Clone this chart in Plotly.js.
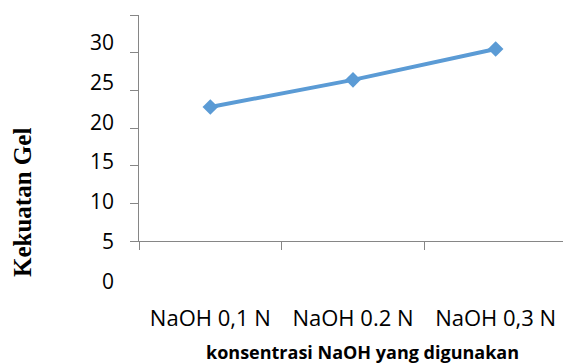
<!DOCTYPE html>
<html>
<head>
<meta charset="utf-8">
<script src="https://cdn.plot.ly/plotly-3.0.1.min.js"></script>
<style>html,body{margin:0;padding:0;background:#fff}#chart{width:563px;height:363px}</style>
</head>
<body>
<div id="chart"></div>
<script>
var categories = ["NaOH 0,1 N", "NaOH 0.2 N", "NaOH 0,3 N"];
var kekuatanGel = [22.8, 26.4, 30.5];
var yTickValues = [0, 5, 10, 15, 20, 25, 30];
var yTickLabels = ["0", "5", "10", "15", "20", "25", "30"];
var xTitle = "konsentrasi NaOH yang digunakan";
var yTitle = "Kekuatan Gel";

var axisGray = "#868686";
var lineBlue = "#5B9BD5";

var traces = [
  {
    type: "scatter",
    mode: "lines+markers",
    x: categories,
    y: kekuatanGel,
    xaxis: "x",
    yaxis: "y",
    line: {color: lineBlue, width: 4},
    marker: {symbol: "diamond", size: 12, color: lineBlue},
    hoverinfo: "x+y",
    showlegend: false
  },
  {
    // carrier for the label axis only; draws nothing
    type: "scatter",
    mode: "none",
    x: categories,
    y: kekuatanGel,
    xaxis: "x",
    yaxis: "y2",
    hoverinfo: "skip",
    showlegend: false
  }
];

var layout = {
  width: 563,
  height: 363,
  margin: {l: 139, r: 0, t: 15, b: 73, pad: 0},
  paper_bgcolor: "#fff",
  plot_bgcolor: "rgba(0,0,0,0)",
  showlegend: false,
  font: {family: "Open Sans, sans-serif", color: "#000"},
  xaxis: {
    type: "category",
    domain: [0, 1],
    anchor: "y",
    range: [-0.5, 2.472],
    tickson: "boundaries",
    ticks: "outside",
    ticklen: 8,
    tickwidth: 1,
    tickcolor: axisGray,
    showline: true,
    linecolor: axisGray,
    linewidth: 1,
    showgrid: false,
    zeroline: false,
    tickfont: {family: "Open Sans, sans-serif", size: 22, color: "#000"},
    ticklabelstandoff: 57,
    fixedrange: true
  },
  yaxis: {
    domain: [0.1771, 1],
    anchor: "x",
    range: [5, 35],
    tickmode: "linear",
    tick0: 5,
    dtick: 5,
    ticks: "outside",
    ticklen: 8,
    tickwidth: 1,
    tickcolor: axisGray,
    showticklabels: false,
    showline: true,
    linecolor: axisGray,
    linewidth: 1,
    showgrid: false,
    zeroline: false,
    fixedrange: true
  },
  yaxis2: {
    domain: [0, 1],
    anchor: "free",
    position: 0,
    side: "left",
    range: [-1.04, 33.45],
    tickmode: "array",
    tickvals: yTickValues,
    ticktext: yTickLabels,
    ticks: "",
    showline: false,
    showgrid: false,
    zeroline: false,
    tickfont: {family: "Open Sans, sans-serif", size: 21, color: "#000"},
    ticklabelstandoff: 25,
    fixedrange: true
  },
  annotations: [
    {
      text: "<b>" + xTitle + "</b>",
      xref: "paper", yref: "paper",
      x: 0.528, y: -0.2255,
      xanchor: "center", yanchor: "middle",
      showarrow: false,
      font: {family: "Open Sans, sans-serif", size: 18, color: "#000"}
    },
    {
      text: "<b>" + yTitle + "</b>",
      xref: "paper", yref: "paper",
      x: -0.2736, y: 0.32,
      xanchor: "center", yanchor: "middle",
      textangle: -90,
      showarrow: false,
      font: {family: "Liberation Serif, Times New Roman, serif", size: 25, color: "#000"}
    }
  ]
};

Plotly.newPlot("chart", traces, layout, {displayModeBar: false, staticPlot: true});
</script>
</body>
</html>
